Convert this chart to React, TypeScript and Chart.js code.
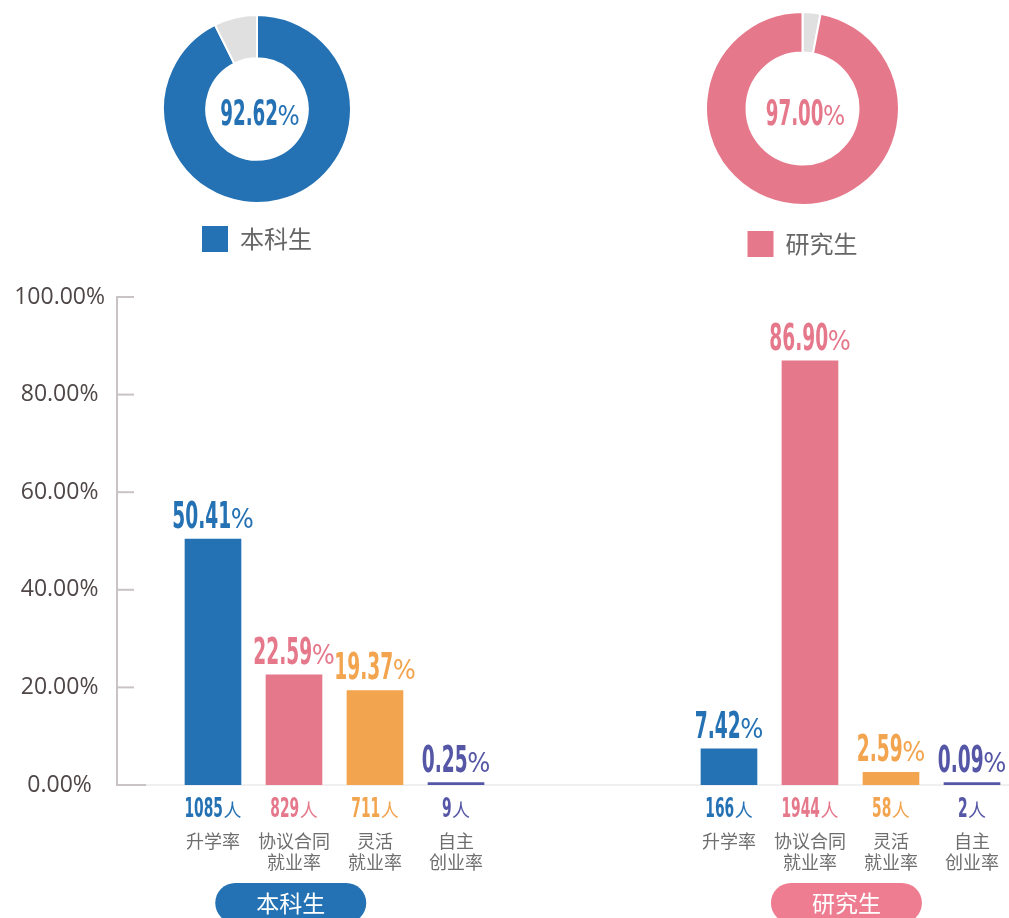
import React, { useEffect, useRef } from 'react';
import { Chart, registerables } from 'chart.js';

Chart.register(...registerables);

// ---------------- data ----------------
const GROUPS = ['本科生', '研究生'];
const EMPLOYMENT_RATES = [92.62, 97.0];
const REST_LABEL = '其他';
const CATEGORY_LINES = [['升学率'], ['协议合同', '就业率'], ['灵活', '就业率'], ['自主', '创业率']];
const UNDERGRAD_RATES = [50.41, 22.59, 19.37, 0.25];
const UNDERGRAD_COUNTS = [1085, 829, 711, 9];
const GRAD_RATES = [7.42, 86.9, 2.59, 0.09];
const GRAD_COUNTS = [166, 1944, 58, 2];
const Y_TICKS = [0, 20, 40, 60, 80, 100];

// ---------------- style / layout ----------------
const BLUE = '#2471b3';
const PINK = '#e5788b';
const ORANGE = '#f2a44e';
const PURPLE = '#5557a6';
const SLICE_GRAY = '#e0e0e0';
const AXIS_COLOR = '#c9c3c3';
const CATEGORY_COLORS = [BLUE, PINK, ORANGE, PURPLE];
const GROUP_COLORS = [BLUE, PINK];
const PILL_COLORS = ['#2472b3', '#ee7d91'];
const CJK = '"Noto Sans CJK SC", "Noto Sans", sans-serif';
const NUM_FONT = '"Liberation Sans Narrow", "DejaVu Sans Condensed", "Liberation Sans", sans-serif';
const TICK_FONT = '"Open Sans", "Noto Sans", sans-serif';
const GROUP_SHIFT = 6.37;
const PILL_CENTERS = [0.96, GROUP_SHIFT + 1.45];
const X_MIN = -1.185;
const X_MAX = 9.827;

function drawFigure(
  ctx: CanvasRenderingContext2D,
  cx: number,
  baseline: number,
  num: string,
  suffix: string,
  color: string,
  digitH: number,
  ratio: number,
  suffixFont: string,
  gap: number
) {
  const size = digitH / 0.716;
  const numFont = `bold ${size}px ${NUM_FONT}`;
  ctx.save();
  ctx.font = numFont;
  const w0 = ctx.measureText('0').width;
  const sx = (digitH * ratio) / w0;
  const numW = ctx.measureText(num).width * sx;
  ctx.font = suffixFont;
  const sufW = ctx.measureText(suffix).width;
  const total = numW + gap + sufW;
  const x = cx - total / 2;
  ctx.fillStyle = color;
  ctx.textAlign = 'left';
  ctx.textBaseline = 'alphabetic';
  ctx.save();
  ctx.translate(x, baseline);
  ctx.scale(sx, 1);
  ctx.font = numFont;
  ctx.fillText(num, 0, 0);
  ctx.restore();
  ctx.font = suffixFont;
  ctx.fillText(suffix, x + numW + gap, baseline);
  ctx.restore();
}

type DonutProps = {
  index: number;
  left: number;
  width: number;
  height: number;
  padTop: number;
  legendPad: number;
  cutout: string;
  restFirst: boolean;
};

function Donut({ index, left, width, height, padTop, legendPad, cutout, restFirst }: DonutProps) {
  const ref = useRef<HTMLCanvasElement>(null);
  useEffect(() => {
    if (!ref.current) return;
    const rate = EMPLOYMENT_RATES[index];
    const rest = +(100 - rate).toFixed(2);
    const color = GROUP_COLORS[index];
    const labels = restFirst ? [REST_LABEL, GROUPS[index]] : [GROUPS[index], REST_LABEL];
    const data = restFirst ? [rest, rate] : [rate, rest];
    const colors = restFirst ? [SLICE_GRAY, color] : [color, SLICE_GRAY];
    const centerPlugin = {
      id: 'centerText',
      afterDatasetsDraw(chart: any) {
        const arc = chart.getDatasetMeta(0).data[0];
        drawFigure(chart.ctx, arc.x + 3, arc.y + 16, rate.toFixed(2), '%', color, 26, 0.49, `26px ${NUM_FONT}`, -0.5);
      },
    };
    const baseGen = (Chart as any).overrides.doughnut.plugins.legend.labels.generateLabels;
    const chart = new Chart(ref.current, {
      type: 'doughnut',
      data: {
        labels,
        datasets: [
          { data, backgroundColor: colors, borderColor: '#ffffff', borderWidth: 2, hoverOffset: 0 },
        ],
      },
      options: {
        responsive: false,
        animation: false,
        events: [],
        cutout,
        layout: { padding: { top: padTop } },
        plugins: {
          tooltip: { enabled: false },
          legend: {
            position: 'bottom',
            labels: {
              boxWidth: 26,
              boxHeight: 26,
              padding: legendPad,
              color: '#666666',
              font: { size: 24, family: CJK },
              generateLabels: (c: any) =>
                baseGen(c)
                  .filter((l: any) => l.text !== REST_LABEL)
                  .map((l: any) => ({ ...l, lineWidth: 0 })),
            },
          },
        },
      } as any,
      plugins: [centerPlugin],
    });
    return () => chart.destroy();
  }, []);
  return (
    <canvas
      ref={ref}
      width={width}
      height={height}
      style={{ position: 'absolute', left, top: 0, width, height }}
    />
  );
}

function BarChart() {
  const ref = useRef<HTMLCanvasElement>(null);
  useEffect(() => {
    if (!ref.current) return;
    const barData = [
      ...UNDERGRAD_RATES.map((v, i) => ({ x: i, y: v })),
      ...GRAD_RATES.map((v, i) => ({ x: i + GROUP_SHIFT, y: v })),
    ];
    const barColors = [...CATEGORY_COLORS, ...CATEGORY_COLORS];

    const decor = {
      id: 'barDecor',
      beforeDatasetsDraw(chart: any) {
        const { ctx, chartArea, scales } = chart;
        const y = scales.y;
        const y0 = y.getPixelForValue(0);
        ctx.save();
        ctx.strokeStyle = '#ebebeb';
        ctx.lineWidth = 1.5;
        ctx.beginPath();
        ctx.moveTo(chartArea.left, y0);
        ctx.lineTo(chartArea.right, y0);
        ctx.stroke();
        ctx.strokeStyle = AXIS_COLOR;
        ctx.lineWidth = 2;
        Y_TICKS.forEach((v) => {
          const py = y.getPixelForValue(v);
          ctx.beginPath();
          ctx.moveTo(chartArea.left, py);
          ctx.lineTo(chartArea.left + (v === 0 ? 29 : 17), py);
          ctx.stroke();
        });
        ctx.restore();
      },
      afterDatasetsDraw(chart: any) {
        const { ctx, scales } = chart;
        const x = scales.x;
        const y = scales.y;
        const y0 = y.getPixelForValue(0);
        const meta = chart.getDatasetMeta(0);
        meta.data.forEach((el: any, k: number) => {
          const g = Math.floor(k / 4);
          const i = k % 4;
          const rate = (g ? GRAD_RATES : UNDERGRAD_RATES)[i];
          const count = (g ? GRAD_COUNTS : UNDERGRAD_COUNTS)[i];
          const color = CATEGORY_COLORS[i];
          drawFigure(ctx, el.x, el.y - 11, rate.toFixed(2), '%', color, 27, 0.48, `27px ${NUM_FONT}`, -0.5);
          drawFigure(ctx, el.x, y0 + 32, String(count), '人', color, 18.5, 0.52, `18px ${CJK}`, 0.5);
          ctx.save();
          ctx.fillStyle = '#6e6e6e';
          ctx.font = `18px ${CJK}`;
          ctx.textAlign = 'center';
          ctx.textBaseline = 'middle';
          CATEGORY_LINES[i].forEach((line, j) => ctx.fillText(line, el.x, y0 + 56 + j * 21));
          ctx.restore();
        });
        GROUPS.forEach((name, g) => {
          const cx = x.getPixelForValue(PILL_CENTERS[g]);
          const top = y0 + 98;
          ctx.save();
          ctx.fillStyle = PILL_COLORS[g];
          ctx.beginPath();
          ctx.roundRect(cx - 75.5, top, 151, 40, 20);
          ctx.fill();
          ctx.fillStyle = '#ffffff';
          ctx.font = `23px ${CJK}`;
          ctx.textAlign = 'center';
          ctx.textBaseline = 'middle';
          ctx.fillText(name, cx, top + 20);
          ctx.restore();
        });
      },
    };

    const chart = new Chart(ref.current, {
      type: 'bar',
      data: {
        datasets: [
          {
            data: barData as any,
            backgroundColor: barColors,
            barThickness: 56,
            minBarLength: 2.5,
          },
        ],
      },
      options: {
        responsive: false,
        animation: false,
        events: [],
        layout: { padding: { top: 27, bottom: 133, left: 0, right: 0 } },
        plugins: { legend: { display: false }, tooltip: { enabled: false } },
        scales: {
          x: {
            type: 'linear',
            display: false,
            offset: false,
            min: X_MIN,
            max: X_MAX,
            grid: { display: false },
          },
          y: {
            min: 0,
            max: 100,
            grid: { display: false, drawTicks: false },
            border: { display: true, color: AXIS_COLOR, width: 2 },
            afterBuildTicks: (s: any) => {
              s.ticks = Y_TICKS.map((v) => ({ value: v }));
            },
            afterFit: (s: any) => {
              s.width = 117;
            },
            ticks: {
              crossAlign: 'center',
              padding: 12,
              color: '#4f4747',
              font: { size: 23, family: TICK_FONT },
              callback: (v: any) => Number(v).toFixed(2) + '%',
            },
          },
        },
      } as any,
      plugins: [decor],
    });
    return () => chart.destroy();
  }, []);
  return (
    <canvas
      ref={ref}
      width={1009}
      height={648}
      style={{ position: 'absolute', left: 0, top: 270, width: 1009, height: 648 }}
    />
  );
}

export default function App() {
  return (
    <div
      style={{
        position: 'absolute',
        left: 0,
        top: 0,
        width: 1009,
        height: 918,
        overflow: 'hidden',
        background: '#ffffff',
      }}
    >
      <Donut index={0} left={157} width={200} height={262} padTop={14} legendPad={22} cutout="54%" restFirst={false} />
      <Donut index={1} left={705} width={195} height={267} padTop={11} legendPad={25} cutout="58%" restFirst={true} />
      <BarChart />
    </div>
  );
}
